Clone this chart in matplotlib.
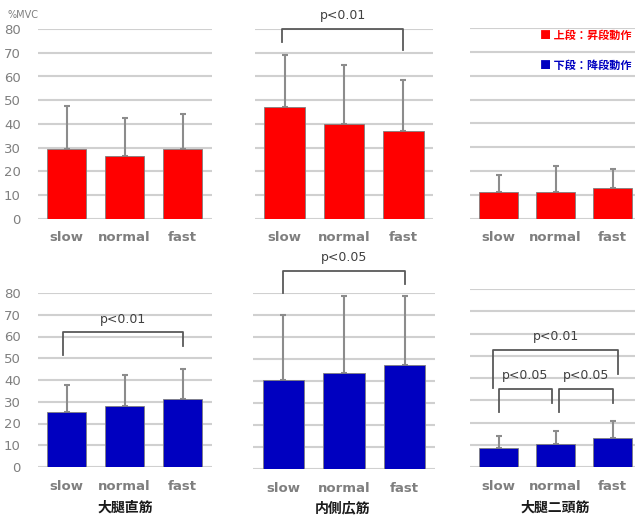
import matplotlib
matplotlib.use("Agg")
import matplotlib.pyplot as plt

plt.rcParams["font.family"] = ["DejaVu Sans", "Noto Sans CJK JP"]

speeds = ["slow", "normal", "fast"]
muscles = ["大腿直筋", "内側広筋", "大腿二頭筋"]
# ascending (upper row, red) and descending (lower row, blue), %MVC
asc_mean = [[29.5, 26.5, 29.5], [47.2, 40.0, 37.0], [11.3, 11.3, 12.8]]
asc_sd = [[18.0, 16.0, 14.5], [22.0, 25.0, 21.5], [7.2, 10.7, 8.2]]
desc_mean = [[25.3, 28.0, 31.3], [40.5, 43.6, 47.3], [8.5, 10.3, 13.0]]
desc_sd = [[12.4, 14.3, 13.7], [29.5, 35.0, 31.3], [5.5, 5.9, 7.7]]

# significance brackets: (row, col, x1, x2, y_top, y_leg1, y_leg2, label)
brackets = [
    (0, 1, -0.05, 2.0, 80, 74.5, 71, "p<0.01"),
    (1, 0, -0.06, 2.0, 62, 51.5, 55.6, "p<0.01"),
    (1, 1, 0.0, 2.0, 90, 80, 84, "p<0.05"),
    (1, 2, -0.1, 2.1, 52.6, 35.5, 42, "p<0.01"),
    (1, 2, 0.0, 0.94, 35, 24.7, 28.8, "p<0.05"),
    (1, 2, 1.06, 2.0, 35, 24.7, 28.8, "p<0.05"),
]

W, H = 635, 518
fig = plt.figure(figsize=(W / 100, H / 100), dpi=100)

# pixel boxes: (left, right, top, bottom)
boxes = [
    [(37.5, 211.5, 29, 219), (255, 433, 29, 219), (470, 641, 28, 219)],
    [(37.5, 211.5, 293, 467), (253, 435, 293, 469), (470, 641, 289, 467)],
]
colors = ["#ff0000", "#0000c0"]
GRID = "#d0d0d0"
TXT = "#7f7f7f"
BR = "#595959"

axes = [[None] * 3 for _ in range(2)]
for r in range(2):
    means = asc_mean if r == 0 else desc_mean
    sds = asc_sd if r == 0 else desc_sd
    for c in range(3):
        l, rr, t, b = boxes[r][c]
        ax = fig.add_axes([l / W, 1 - b / H, (rr - l) / W, (b - t) / H])
        axes[r][c] = ax
        x = range(3)
        ax.bar(x, means[c], width=0.68, color=colors[r], edgecolor="#808080",
               lw=0.6, zorder=3)
        ax.errorbar(x, means[c], yerr=[[0] * 3, sds[c]], fmt="none",
                    ecolor="#8c8c8c", elinewidth=1.5, capsize=2, capthick=1.5,
                    zorder=2)
        ax.set_xlim(-0.5, 2.5)
        ax.set_ylim(0, 80)
        ax.set_yticks(range(0, 81, 10))
        ax.grid(axis="y", color=GRID, lw=1.5, zorder=0)
        ax.set_axisbelow(True)
        for sp in ax.spines.values():
            sp.set_visible(False)
        ax.set_xticks(list(x))
        ax.set_xticklabels(speeds, fontsize=9.5, fontweight="bold", color=TXT)
        ax.tick_params(axis="x", length=0, pad=9)
        if c == 0:
            ax.tick_params(axis="y", length=0, pad=12, labelsize=9.5,
                           labelcolor=TXT)
        else:
            ax.tick_params(axis="y", length=0, labelleft=False)

for r, c, x1, x2, yt, y1, y2, lab in brackets:
    ax = axes[r][c]
    ax.plot([x1, x1, x2, x2], [y1, yt, yt, y2], color=BR, lw=1.3,
            clip_on=False, zorder=4)
    ax.text((x1 + x2) / 2, yt + 3, lab, ha="center", va="bottom",
            fontsize=9, color="#404040", clip_on=False)

fig.text(8 / W, 1 - 15 / H, "%MVC", fontsize=7, color=TXT, va="center")
fig.text(540 / W, 1 - 35 / H, "■ 上段：昇段動作", fontsize=8, color="#ff0000",
         fontweight="bold", va="center",
         family=["Noto Sans CJK JP", "DejaVu Sans"])
fig.text(540 / W, 1 - 65 / H, "■ 下段：降段動作", fontsize=8, color="#0000c0",
         fontweight="bold", va="center",
         family=["Noto Sans CJK JP", "DejaVu Sans"])

title_x = [125, 343, 555]
for name, cx in zip(muscles, title_x):
    fig.text(cx / W, 1 - 508 / H, name, ha="center", va="center", fontsize=10,
             fontweight="bold", color="#1a1a1a",
             family=["Noto Sans CJK JP", "DejaVu Sans"])

fig.savefig("out.png", dpi=100)
